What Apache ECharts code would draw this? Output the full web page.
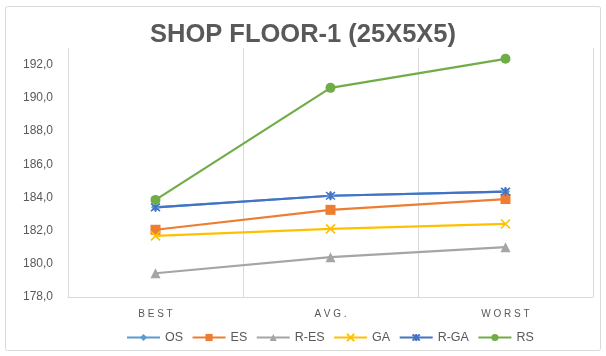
<!DOCTYPE html>
<html>
<head>
<meta charset="utf-8">
<script src="https://cdn.jsdelivr.net/npm/echarts@6/dist/echarts.min.js"></script>
<style>
  html, body { margin: 0; padding: 0; background: #fff; }
  #chart { width: 606px; height: 356px; }
</style>
</head>
<body>
<div id="chart"></div>
<script>
// Makespan results per scenario
const categories = ['BEST', 'AVG.', 'WORST'];
const seriesNames = ['OS', 'ES', 'R-ES', 'GA', 'R-GA', 'RS'];
const osValues  = [183.4, 184.1, 184.35];
const esValues  = [182.05, 183.25, 183.9];
const resValues = [179.43, 180.4, 181.0];
const gaValues  = [181.68, 182.1, 182.4];
const rgaValues = [183.4, 184.1, 184.35];
const rsValues  = [183.85, 190.6, 192.35];
const yTicks = { min: 178, max: 193, step: 2 };

const colors = {
  'OS': '#5B9BD5', 'ES': '#ED7D31', 'R-ES': '#A5A5A5',
  'GA': '#FFC000', 'R-GA': '#4472C4', 'RS': '#70AD47'
};
const valuesByName = {
  'OS': osValues, 'ES': esValues, 'R-ES': resValues,
  'GA': gaValues, 'R-GA': rgaValues, 'RS': rsValues
};

const crossPath = 'path://M0,0L10,10M10,0L0,10';
const starPath = 'path://M0,0L10,10M10,0L0,10M5,-1L5,11';

function markerFor(name) {
  const c = colors[name];
  switch (name) {
    case 'OS': return { symbol: 'diamond', symbolSize: 9, itemStyle: { color: c } };
    case 'ES': return { symbol: 'rect', symbolSize: 10, itemStyle: { color: c } };
    case 'R-ES': return { symbol: 'triangle', symbolSize: 10, itemStyle: { color: c } };
    case 'GA': return { symbol: crossPath, symbolSize: 9,
      itemStyle: { color: 'rgba(0,0,0,0)', borderColor: c, borderWidth: 1.6 } };
    case 'R-GA': return { symbol: starPath, symbolSize: 9,
      itemStyle: { color: 'rgba(0,0,0,0)', borderColor: c, borderWidth: 1.6 } };
    case 'RS': return { symbol: 'circle', symbolSize: 10, itemStyle: { color: c } };
  }
}

const series = seriesNames.map(name => Object.assign({
  name: name,
  type: 'line',
  data: valuesByName[name],
  showAllSymbol: true,
  lineStyle: { color: colors[name], width: 2.2 },
  emphasis: { disabled: true },
  animation: false
}, markerFor(name)));

const chart = echarts.init(document.getElementById('chart'));
chart.setOption({
  backgroundColor: '#fff',
  color: seriesNames.map(n => colors[n]),
  title: {
    text: 'SHOP FLOOR-1 (25X5X5)',
    left: 'center',
    top: 17,
    textStyle: {
      fontFamily: 'Liberation Sans', fontWeight: 'bold',
      fontSize: 25.5, color: '#595959'
    }
  },
  graphic: [{
    type: 'rect',
    shape: { x: 5.5, y: 6.5, width: 595, height: 344, r: 2 },
    style: { fill: 'none', stroke: '#D9D9D9', lineWidth: 1 },
    silent: true
  }],
  legend: {
    data: seriesNames,
    left: 121,
    top: 326,
    itemWidth: 33,
    itemHeight: 9,
    itemGap: 8.5,
    textStyle: { fontFamily: 'Liberation Sans', fontSize: 12.5, color: '#595959' }
  },
  grid: { left: 68, right: 13, top: 48, bottom: 59 },
  xAxis: {
    type: 'category',
    data: categories,
    axisLine: { show: true, lineStyle: { color: '#D9D9D9', width: 1 } },
    axisTick: { show: false },
    splitLine: { show: true, lineStyle: { color: '#D9D9D9', width: 1 } },
    axisLabel: {
      margin: 12,
      fontFamily: 'Liberation Sans', fontSize: 10, color: '#595959',
      formatter: v => v.split('').join(' ')
    }
  },
  yAxis: {
    type: 'value',
    min: yTicks.min,
    max: yTicks.max,
    interval: yTicks.step,
    axisLine: { show: false },
    axisTick: { show: false },
    splitLine: { show: false },
    axisLabel: {
      margin: 15,
      showMaxLabel: false,
      fontFamily: 'Liberation Sans', fontSize: 12, color: '#595959',
      formatter: v => v.toFixed(1).replace('.', ',')
    }
  },
  series: series
});
</script>
</body>
</html>
